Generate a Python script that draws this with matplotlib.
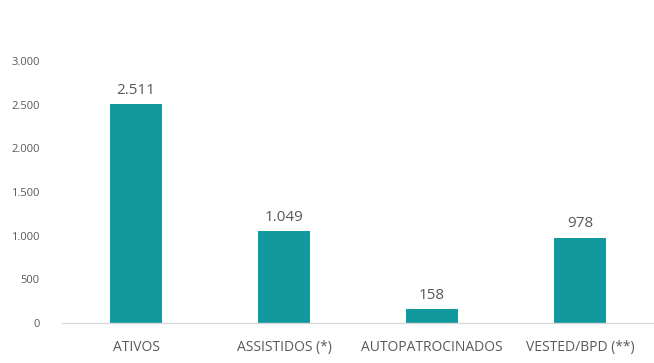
import matplotlib
matplotlib.use("Agg")
import matplotlib.pyplot as plt
from matplotlib.ticker import FuncFormatter

categories = ["ATIVOS", "ASSISTIDOS (*)", "AUTOPATROCINADOS", "VESTED/BPD (**)"]
values = [2511, 1049, 158, 978]
yticks = [0, 500, 1000, 1500, 2000, 2500, 3000]

def fmt(v):
    return "{:,.0f}".format(v).replace(",", ".")

plt.rcParams['font.family'] = ['Open Sans', 'DejaVu Sans']

fig = plt.figure(figsize=(6.54, 3.63), dpi=100)
ax = fig.add_axes([62/654, 40/363, 592/654, 262/363])

x = range(len(categories))
bars = ax.bar(x, values, width=0.35, color="#11999E", zorder=2)
for b, v in zip(bars, values):
    ax.text(b.get_x() + b.get_width()/2, v + 70, fmt(v), ha="center", va="bottom",
            fontsize=11, color="#595959")

ax.set_xlim(-0.5, 3.5)
ax.set_ylim(0, 3000)
ax.set_yticks(yticks)
ax.yaxis.set_major_formatter(FuncFormatter(lambda v, p: fmt(v)))
ax.set_xticks(list(x))
ax.set_xticklabels(categories)
ax.tick_params(axis="y", length=0, labelsize=8, labelcolor="#595959", pad=16)
ax.tick_params(axis="x", length=0, labelsize=10, labelcolor="#595959", pad=12)

for s in ["top", "right", "left"]:
    ax.spines[s].set_visible(False)
ax.spines["bottom"].set_color("#D9D9D9")
ax.spines["bottom"].set_linewidth(1)

fig.savefig("out.png", dpi=100)
